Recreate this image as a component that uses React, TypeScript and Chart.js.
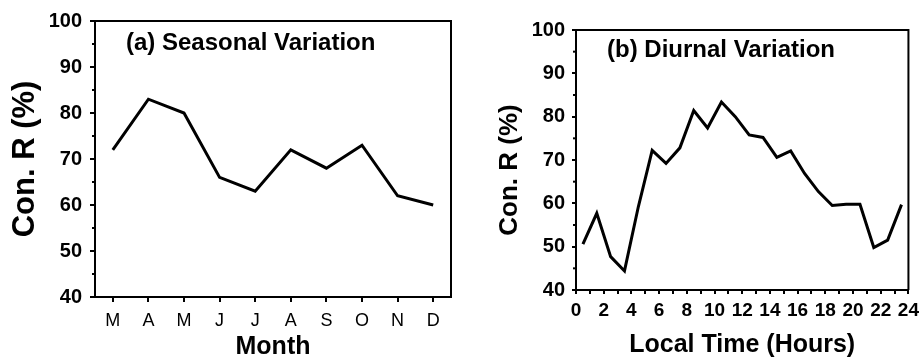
import React, { useEffect, useRef } from "react";
import { Chart, registerables } from "chart.js";

Chart.register(...registerables);

const FONT = 'Arial, "Liberation Sans", Helvetica, sans-serif';

const months = ["M", "A", "M", "J", "J", "A", "S", "O", "N", "D"];
const seasonalR = [72, 83, 80, 66, 63, 72, 68, 73, 62, 60];

const hours = [0.5, 1.5, 2.5, 3.5, 4.5, 5.5, 6.5, 7.5, 8.5, 9.5, 10.5, 11.5, 12.5, 13.5, 14.5, 15.5, 16.5, 17.5, 18.5, 19.5, 20.5, 21.5, 22.5, 23.5];
const diurnalR = [50.6, 57.7, 47.7, 44.4, 59.2, 72.2, 69.2, 72.8, 81.4, 77.4, 83.4, 80.0, 75.8, 75.2, 70.6, 72.1, 66.9, 62.7, 59.5, 59.8, 59.8, 49.8, 51.5, 59.7];

const yMin = 40;
const yMax = 100;
const yStep = 10;

const titleA = "(a) Seasonal Variation";
const titleB = "(b) Diurnal Variation";
const yTitle = "Con. R (%)";
const xTitleA = "Month";
const xTitleB = "Local Time (Hours)";

const framePlugin = {
  id: "frameAndExtras",
  afterDraw(chart: any, _args: any, opts: any) {
    const { ctx, chartArea } = chart;
    const { left, right, top, bottom } = chartArea;
    ctx.save();
    ctx.strokeStyle = "#000";
    ctx.lineWidth = 2;
    ctx.beginPath();
    ctx.moveTo(left, top);
    ctx.lineTo(right, top);
    ctx.lineTo(right, bottom);
    ctx.stroke();
    // minor y ticks
    const ys = chart.scales.y;
    for (let v = yMin + yStep / 2; v < yMax; v += yStep) {
      const py = ys.getPixelForValue(v);
      ctx.beginPath();
      ctx.moveTo(left - (opts.minorLen || 3), py);
      ctx.lineTo(left, py);
      ctx.stroke();
    }
    ctx.fillStyle = "#000";
    // y axis title
    ctx.save();
    ctx.font = `bold ${opts.yTitleSize}px ${FONT}`;
    ctx.textBaseline = "middle";
    ctx.textAlign = "center";
    ctx.translate(opts.yTitleX, (top + bottom) / 2 + opts.yTitleShift);
    ctx.rotate(-Math.PI / 2);
    ctx.fillText(yTitle, 0, 0);
    ctx.restore();
    // panel title
    ctx.font = `bold ${opts.titleSize}px ${FONT}`;
    ctx.textBaseline = "middle";
    ctx.textAlign = "left";
    ctx.fillText(opts.title, left + opts.dx, top + opts.dy);
    ctx.restore();
  },
};

function yScale(width: number, labelSize: number, tickLen: number, tickPad: number) {
  return {
    type: "linear",
    min: yMin,
    max: yMax,
    afterFit: (s: any) => {
      s.width = width;
    },
    ticks: {
      stepSize: yStep,
      color: "#000",
      padding: tickPad,
      font: { family: FONT, size: labelSize, weight: "bold" },
    },
    grid: {
      display: true,
      drawOnChartArea: false,
      drawTicks: true,
      tickLength: tickLen,
      tickColor: "#000",
      tickWidth: 2,
      lineWidth: 2,
      color: "#000",
    },
    border: { display: true, color: "#000", width: 2 },
    title: { display: false },
  };
}

function SeasonalChart() {
  const ref = useRef<HTMLCanvasElement>(null);
  useEffect(() => {
    const chart = new Chart(ref.current as HTMLCanvasElement, {
      type: "line",
      data: {
        labels: months,
        datasets: [
          {
            data: seasonalR,
            borderColor: "#000",
            borderWidth: 3,
            pointRadius: 0,
            tension: 0,
            fill: false,
          },
        ],
      },
      options: {
        responsive: false,
        animation: false,
        layout: { padding: { top: 21, right: 11, left: 0, bottom: 0 } },
        plugins: {
          legend: { display: false },
          tooltip: { enabled: false },
          frameAndExtras: {
            title: titleA,
            titleSize: 24,
            dx: 31,
            dy: 22,
            minorLen: 3,
            yTitleSize: 31,
            yTitleX: 25,
            yTitleShift: 0,
          },
        } as any,
        scales: {
          x: {
            type: "category",
            offset: true,
            afterFit: (s: any) => {
              s.height = 66;
            },
            ticks: {
              color: "#000",
              padding: 8,
              autoSkip: false,
              maxRotation: 0,
              font: { family: FONT, size: 18 },
            },
            grid: {
              display: true,
              drawOnChartArea: false,
              drawTicks: true,
              tickLength: 5,
              tickColor: "#000",
              tickWidth: 2,
              lineWidth: 2,
              color: "#000",
              offset: false,
            },
            border: { display: true, color: "#000", width: 2 },
            title: {
              display: true,
              text: xTitleA,
              color: "#000",
              font: { family: FONT, size: 25, weight: "bold" },
              padding: { top: 0, bottom: 1 },
            },
          },
          y: yScale(95, 20, 5, 8),
        } as any,
      },
      plugins: [framePlugin],
    });
    return () => chart.destroy();
  }, []);
  return <canvas ref={ref} width={462} height={363} style={{ display: "block" }} />;
}

function DiurnalChart() {
  const ref = useRef<HTMLCanvasElement>(null);
  useEffect(() => {
    const chart = new Chart(ref.current as HTMLCanvasElement, {
      type: "line",
      data: {
        datasets: [
          {
            data: hours.map((h, i) => ({ x: h, y: diurnalR[i] })),
            borderColor: "#000",
            borderWidth: 3,
            pointRadius: 0,
            tension: 0,
            fill: false,
          },
        ],
      },
      options: {
        responsive: false,
        animation: false,
        layout: { padding: { top: 30, right: 11, left: 0, bottom: 0 } },
        plugins: {
          legend: { display: false },
          tooltip: { enabled: false },
          frameAndExtras: {
            title: titleB,
            titleSize: 24,
            dx: 31,
            dy: 20,
            minorLen: 3,
            yTitleSize: 26,
            yTitleX: 48,
            yTitleShift: 10,
          },
        } as any,
        scales: {
          x: {
            type: "linear",
            min: 0,
            max: 24,
            afterFit: (s: any) => {
              s.height = 73;
            },
            afterBuildTicks: (s: any) => {
              const t = [];
              for (let v = 0; v <= 24; v += 1) t.push({ value: v });
              s.ticks = t;
            },
            ticks: {
              color: "#000",
              padding: 5,
              autoSkip: false,
              maxRotation: 0,
              includeBounds: true,
              callback: (v: any) => (Number(v) % 2 === 0 ? String(v) : ""),
              font: { family: FONT, size: 19, weight: "bold" },
            },
            grid: {
              display: true,
              drawOnChartArea: false,
              drawTicks: true,
              tickLength: 4,
              tickColor: "#000",
              tickWidth: 2,
              lineWidth: 2,
              color: "#000",
            },
            border: { display: true, color: "#000", width: 2 },
            title: {
              display: true,
              text: xTitleB,
              color: "#000",
              font: { family: FONT, size: 25, weight: "bold" },
              padding: { top: 0, bottom: 3 },
            },
          },
          y: yScale(114, 20, 4, 7),
        } as any,
      },
      plugins: [framePlugin],
    });
    return () => chart.destroy();
  }, []);
  return <canvas ref={ref} width={462} height={363} style={{ display: "block" }} />;
}

export default function App() {
  return (
    <div
      style={{
        position: "absolute",
        left: 0,
        top: 0,
        width: 924,
        height: 363,
        display: "flex",
        background: "#fff",
      }}
    >
      <SeasonalChart />
      <DiurnalChart />
    </div>
  );
}
